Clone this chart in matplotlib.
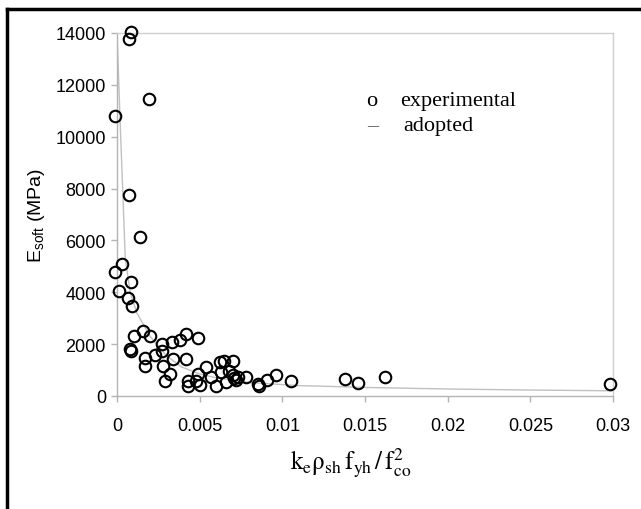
import matplotlib
matplotlib.use("Agg")
import matplotlib.pyplot as plt
from matplotlib.lines import Line2D

# experimental data (x = k_e*rho_sh*f_yh/f_co^2, y = E_soft MPa)
exp_x = [0.00085, 0.0007, 0.00195, -0.0001, 0.0007, 0.0014,
         0.0003, -0.0001, 0.00085, 0.00015, 0.00065, 0.00093,
         0.001, 0.0016, 0.002, 0.0008, 0.00085, 0.0017, 0.0017,
         0.0023, 0.0027, 0.0027, 0.0028, 0.0029, 0.0032, 0.0033,
         0.0034, 0.0038, 0.0042, 0.0042, 0.0049, 0.0043, 0.0043,
         0.0048, 0.005, 0.0049, 0.0054, 0.0057, 0.006, 0.0062,
         0.0063, 0.0065, 0.0066, 0.0068, 0.007, 0.007, 0.0071,
         0.0072, 0.0073, 0.0078, 0.0085, 0.0086, 0.0091, 0.0096,
         0.0105, 0.0138, 0.0146, 0.0162, 0.0298]
exp_y = [14050, 13760, 11470, 10800, 7770, 6150,
         5100, 4800, 4400, 4050, 3780, 3480,
         2320, 2510, 2320, 1810, 1740, 1470, 1160,
         1580, 2010, 1740, 1160, 580, 850, 2080,
         1430, 2160, 2390, 1430, 2240, 580, 390,
         580, 420, 850, 1120, 730, 390, 1310,
         930, 1350, 540, 970, 1350, 810, 700,
         620, 750, 730, 460, 390, 620, 810,
         580, 660, 490, 720, 460]

# adopted model curve
adopt_x = [0.0, 0.0002, 0.0005, 0.0008, 0.0012, 0.002, 0.003, 0.0039,
           0.005, 0.006, 0.008, 0.011, 0.0123, 0.015, 0.02, 0.025, 0.03]
adopt_y = [14000, 10400, 5300, 4000, 3200, 2300, 1550, 1120,
           850, 700, 520, 400, 380, 330, 270, 230, 200]

xticks = [0, 0.005, 0.01, 0.015, 0.02, 0.025, 0.03]
xticklabels = ["0", "0.005", "0.01", "0.015", "0.02", "0.025", "0.03"]
yticks = [0, 2000, 4000, 6000, 8000, 10000, 12000, 14000]

plt.rcParams['font.family'] = ['Liberation Sans', 'DejaVu Sans']

fig = plt.figure(figsize=(6.41, 5.10), dpi=100)
ax = fig.add_axes([117/641, 1-397/510, (613-117)/641, (397-34)/510])

gray = '#b4b4b4'
ax.plot(adopt_x, adopt_y, color='#c0c0c0', lw=1.0, zorder=2)
ax.plot(exp_x, exp_y, linestyle='none', marker='o', markersize=8.3,
        markerfacecolor='none', markeredgecolor='black', mew=1.5,
        clip_on=False, zorder=3)

ax.set_xlim(0, 0.03)
ax.set_ylim(0, 14000)
ax.set_xticks(xticks)
ax.set_xticklabels(xticklabels)
ax.set_yticks(yticks)
for s in ax.spines.values():
    s.set_color(gray)
    s.set_linewidth(1.0)
ax.spines['top'].set_color('#d0d0d0')
ax.spines['right'].set_color('#d0d0d0')
ax.tick_params(axis='both', colors=gray, labelcolor='black', labelsize=13,
               length=4, width=1)
ax.tick_params(axis='x', pad=11)
ax.tick_params(axis='y', pad=4)

ax.set_ylabel(r'$\mathregular{E_{soft}}$ (MPa)', fontsize=14, labelpad=6)

fig.text(351/641, 1-463/510,
         r'$\mathrm{k_e\rho_{sh}\,f_{yh}\,/\,f_{co}^{2}}$',
         fontsize=18, ha='center', va='center',
         math_fontfamily='stix')

serif = ['Liberation Serif', 'DejaVu Serif']
ax.text(372/641, 1-102/510, 'o', transform=fig.transFigure,
        fontsize=16, family=serif, ha='center', va='center')
ax.text(400/641, 1-102/510, 'experimental', transform=fig.transFigure,
        fontsize=16, family=serif, ha='left', va='center')
ax.text(373/641, 1-127/510, '\u2013', transform=fig.transFigure,
        fontsize=16, family=serif, ha='center', va='center', color='#555555')
ax.text(403/641, 1-127/510, 'adopted', transform=fig.transFigure,
        fontsize=16, family=serif, ha='left', va='center')

# outer frame (left and top edges visible)
fig.add_artist(Line2D([7/641, 7/641], [0, 1-10/510], color='black', lw=2.5,
                      transform=fig.transFigure))
fig.add_artist(Line2D([7/641, 1], [1-10/510, 1-10/510], color='black', lw=2.5,
                      transform=fig.transFigure))

fig.savefig('out.png', dpi=100)
